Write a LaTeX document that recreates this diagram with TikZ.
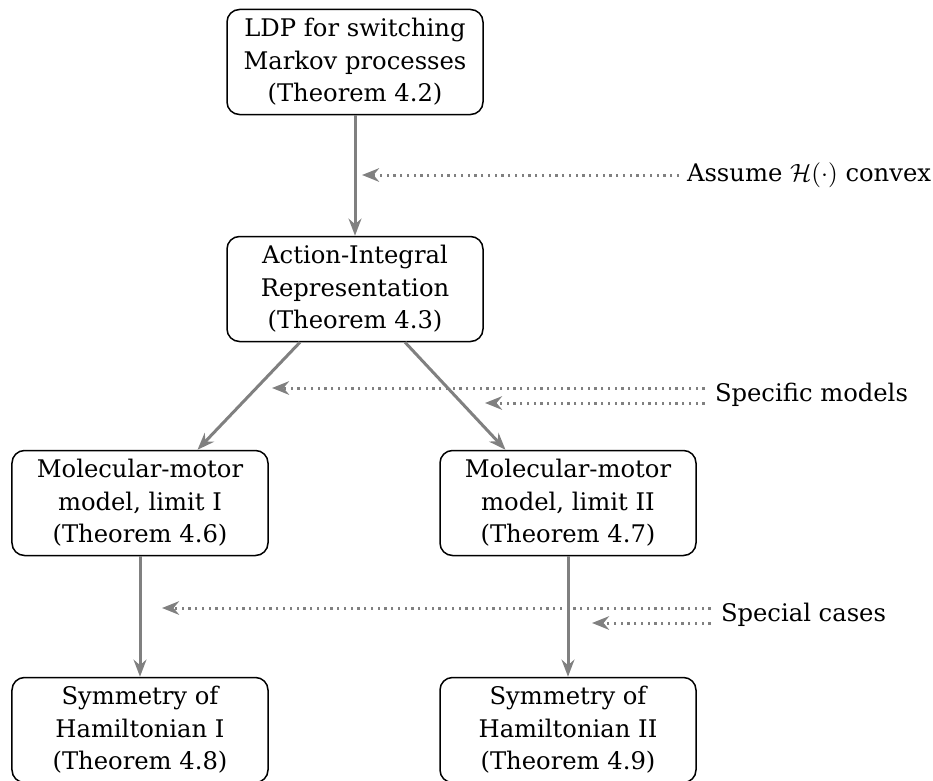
\documentclass[tikz,border=0pt]{standalone}
\usepackage{fontspec}
\setmainfont{DejaVu Serif}
\usetikzlibrary{arrows.meta,positioning}
\tikzset{
  thmBox/.style={
    draw=black,
    rounded corners=5pt,
    line width=0.6pt,
    align=center,
    minimum width=102.4pt,
    minimum height=42pt,
    inner sep=2pt
  },
  mainArrow/.style={-{Stealth[length=2.4mm,width=1.8mm]}, line width=1.2pt, draw=gray},
  noteArrow/.style={-{Stealth[length=2.4mm,width=1.9mm]}, dash pattern=on 0.9pt off 1.8pt, line width=1.2pt, draw=gray}
}
\begin{document}
\begin{tikzpicture}[x=0.4pt, y=-0.4pt, font=\fontsize{9.7}{13}\selectfont]
  \useasboundingbox (0,0) rectangle (933,780);
  % theorem boxes
  \node[thmBox] (ldp) at (355,62) {LDP for switching\\Markov processes\\(Theorem 4.2)};
  \node[thmBox] (air) at (355,289) {Action-Integral\\Representation\\(Theorem 4.3)};
  \node[thmBox] (mm1) at (140,503) {Molecular-motor\\model, limit I\\(Theorem 4.6)};
  \node[thmBox] (mm2) at (568,503) {Molecular-motor\\model, limit II\\(Theorem 4.7)};
  \node[thmBox] (sym1) at (140,730) {Symmetry of\\Hamiltonian I\\(Theorem 4.8)};
  \node[thmBox] (sym2) at (568,730) {Symmetry of\\Hamiltonian II\\(Theorem 4.9)};
  % side notes
  \node[anchor=west, inner sep=1pt] (convex) at (684,175) {Assume $\mathcal{H}(\cdot)$ convex};
  \node[anchor=west, inner sep=1pt] (models) at (712,395) {Specific models};
  \node[anchor=west, inner sep=1pt] (cases) at (718,615) {Special cases};
  \coordinate (tipA) at (362,175);
  \coordinate (tipB) at (272,388);
  \coordinate (tipC) at (485,403);
  \coordinate (tipD) at (162,608);
  \coordinate (tipE) at (592,623);

  \draw[mainArrow] (ldp) -- (air);
  \draw[mainArrow] ([xshift=-22pt]air.south) -- ([xshift=23pt]mm1.north);
  \draw[mainArrow] ([xshift=20pt]air.south) -- ([xshift=-25pt]mm2.north);
  \draw[mainArrow] (mm1) -- (sym1);
  \draw[mainArrow] (mm2) -- (sym2);

  \draw[noteArrow] ([xshift=-2pt]convex.west) -- (tipA);
  \draw[noteArrow] ([xshift=-3pt]models.west |- tipB) -- (tipB);
  \draw[noteArrow] ([xshift=-3pt]models.west |- tipC) -- (tipC);
  \draw[noteArrow] ([xshift=-3pt]cases.west |- tipD) -- (tipD);
  \draw[noteArrow] ([xshift=-3pt]cases.west |- tipE) -- (tipE);
\end{tikzpicture}
\end{document}
